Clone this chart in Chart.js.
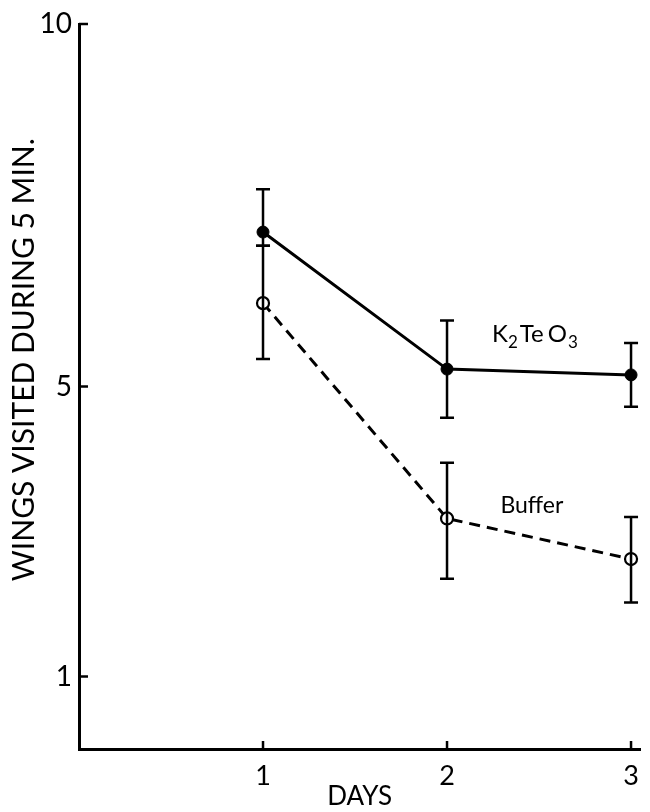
<!DOCTYPE html>
<html>
<head>
<meta charset="utf-8">
<script src="https://cdn.jsdelivr.net/npm/chart.js@4.4.0/dist/chart.umd.min.js"></script>
<style>
  html, body { margin: 0; padding: 0; background: #fff; }
  #wrap { width: 650px; height: 812px; position: relative; }
</style>
</head>
<body>
<div id="wrap"><canvas id="c" width="650" height="812"></canvas></div>
<script>
// ---- data ----
const days = [1, 2, 3];
const k2teo3Mean = [7.13, 5.24, 5.16];
const k2teo3Upper = [7.72, 5.91, 5.60];
const k2teo3Lower = [6.94, 4.57, 4.72];
const bufferMean = [6.15, 3.18, 2.62];
const bufferUpper = [6.94, 3.95, 3.20];
const bufferLower = [5.38, 2.35, 2.02];
const xTickValues = [1, 2, 3];
const yTickValues = [1, 5, 10];
const seriesLabels = ['K₂TeO₃', 'Buffer'];
const xTitle = 'DAYS';
const yTitle = 'WINGS VISITED DURING 5 MIN.';

const FONT = 'Lato, "DejaVu Sans", sans-serif';

const errorBars = {
  id: 'errorBars',
  afterDatasetsDraw(chart) {
    const { ctx, scales: { x, y } } = chart;
    const sets = [[k2teo3Upper, k2teo3Lower], [bufferUpper, bufferLower]];
    ctx.save();
    ctx.strokeStyle = '#000';
    ctx.lineWidth = 2.5;
    ctx.lineCap = 'butt';
    sets.forEach(([up, lo]) => {
      days.forEach((d, i) => {
        const px = x.getPixelForValue(d);
        const pu = y.getPixelForValue(up[i]);
        const pl = y.getPixelForValue(lo[i]);
        ctx.beginPath();
        ctx.moveTo(px, pu); ctx.lineTo(px, pl);
        ctx.moveTo(px - 7, pu); ctx.lineTo(px + 7, pu);
        ctx.moveTo(px - 7, pl); ctx.lineTo(px + 7, pl);
        ctx.stroke();
      });
    });
    ctx.restore();
  }
};

const decorations = {
  id: 'decorations',
  afterDraw(chart) {
    const { ctx, scales: { x, y }, chartArea } = chart;
    ctx.save();
    ctx.strokeStyle = '#000';
    ctx.lineWidth = 2.5;
    yTickValues.forEach(v => {
      const py = y.getPixelForValue(v);
      ctx.beginPath();
      ctx.moveTo(chartArea.left, py); ctx.lineTo(chartArea.left + 9, py);
      ctx.stroke();
    });
    xTickValues.forEach(v => {
      const px = x.getPixelForValue(v);
      ctx.beginPath();
      ctx.moveTo(px, chartArea.bottom); ctx.lineTo(px, chartArea.bottom - 8);
      ctx.stroke();
    });
    ctx.fillStyle = '#000';
    // y title
    ctx.save();
    ctx.translate(24, y.getPixelForValue(5.37));
    ctx.rotate(-Math.PI / 2);
    ctx.font = '30px ' + FONT;
    ctx.textAlign = 'center';
    ctx.textBaseline = 'middle';
    ctx.fillText(yTitle, 0, 0);
    ctx.restore();
    // series labels
    ctx.textBaseline = 'alphabetic';
    ctx.textAlign = 'left';
    let px = x.getPixelForValue(2.245), py = y.getPixelForValue(5.61);
    ctx.font = '24px ' + FONT;
    ctx.fillText('K', px, py);
    let w = ctx.measureText('K').width;
    ctx.font = '17px ' + FONT;
    ctx.fillText('2', px + w, py + 6);
    w += ctx.measureText('2').width + 2;
    ctx.font = '24px ' + FONT;
    ctx.fillText('Te', px + w, py);
    w += ctx.measureText('Te').width + 4;
    ctx.fillText('O', px + w, py);
    w += ctx.measureText('O').width + 1;
    ctx.font = '17px ' + FONT;
    ctx.fillText('3', px + w, py + 6);
    ctx.font = '23px ' + FONT;
    ctx.fillText('Buffer', x.getPixelForValue(2.29), y.getPixelForValue(3.26));
    ctx.restore();
  }
};

new Chart(document.getElementById('c'), {
  type: 'scatter',
  data: {
    datasets: [
      {
        label: seriesLabels[0],
        data: days.map((d, i) => ({ x: d, y: k2teo3Mean[i] })),
        showLine: true,
        borderColor: '#000',
        borderWidth: 3,
        pointRadius: 6,
        pointBackgroundColor: '#000',
        pointBorderColor: '#000',
        pointBorderWidth: 1
      },
      {
        label: seriesLabels[1],
        data: days.map((d, i) => ({ x: d, y: bufferMean[i] })),
        showLine: true,
        borderColor: '#000',
        borderWidth: 3,
        borderDash: [11, 7],
        pointRadius: 6,
        pointBackgroundColor: '#fff',
        pointBorderColor: '#000',
        pointBorderWidth: 2.2
      }
    ]
  },
  plugins: [errorBars, decorations],
  options: {
    responsive: false,
    animation: false,
    layout: { padding: { top: 24, right: 1, left: 0, bottom: 0 } },
    plugins: { legend: { display: false }, tooltip: { enabled: false } },
    scales: {
      x: {
        type: 'linear', min: 0, max: 3.05,
        afterBuildTicks: s => { s.ticks = xTickValues.map(v => ({ value: v })); },
        afterFit: s => { s.height = 63; },
        grid: { display: false, drawTicks: false },
        border: { display: true, color: '#000', width: 3 },
        ticks: { color: '#000', font: { family: FONT, size: 27 }, padding: 11, callback: v => String(v) },
        title: { display: true, text: xTitle, color: '#000', font: { family: FONT, size: 26 }, padding: { top: -2, bottom: 0 } }
      },
      y: {
        type: 'linear', min: 0, max: 10,
        afterBuildTicks: s => { s.ticks = yTickValues.map(v => ({ value: v })); },
        afterFit: s => { s.width = 79; },
        grid: { display: false, drawTicks: false },
        border: { display: true, color: '#000', width: 3 },
        ticks: { color: '#000', font: { family: FONT, size: 28 }, padding: 7, callback: v => String(v) },
        title: { display: false }
      }
    }
  }
});
</script>
</body>
</html>
